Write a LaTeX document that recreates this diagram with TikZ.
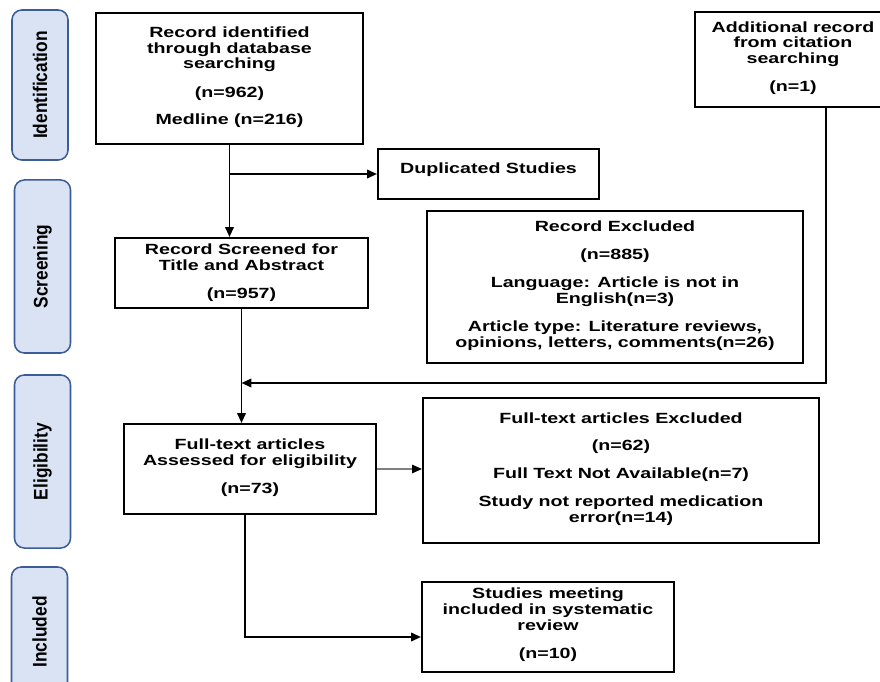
\documentclass[tikz,border=0pt]{standalone}
\usepackage{fontspec}
\newfontfamily\boxfont[FakeStretch=1.33]{Liberation Sans}
\newfontfamily\stagefont[FakeStretch=0.88]{Liberation Sans}
\usepackage{tikz}
\usetikzlibrary{arrows.meta,calc}
\definecolor{stagefill}{HTML}{DAE3F3}
\definecolor{stageline}{HTML}{3B5C96}

\begin{document}
\begin{tikzpicture}[x=0.025cm, y=-0.025cm,
    box/.style={rectangle, draw, line width=1.4pt, align=center, inner sep=0pt, text depth=0.15cm, font=\boxfont\bfseries\fontsize{10.5}{11.3}\selectfont},
    stage/.style={rectangle, rounded corners=7pt, draw=stageline, fill=stagefill, line width=1.1pt, rotate=90, minimum height=1.4cm, inner sep=0pt, font=\stagefont\bfseries\fontsize{14}{16}\selectfont},
    arrow/.style={line width=1.4pt, -{Triangle[length=7pt,width=6pt]}}]

    \clip (0,0) rectangle (880,682);

    % stages on the left
    \node[stage, minimum width=3.75cm] (identification) at (40,85) {Identification};
    \node[stage, minimum width=4.325cm] (screening) at (42.5,266.5) {Screening};
    \node[stage, minimum width=4.325cm] (eligibility) at (42.5,461.5) {Eligibility};
    \node[stage, minimum width=3.25cm] (included) at (39.5,632) {Included};

    % records
    \node[box, minimum width=6.675cm, minimum height=3.275cm] (database) at (229.5,78.5) {
        Record identified\\through database\\searching\\[9pt]
        (n=962)\\[8pt]
        Medline (n=216)
    };
    \node[box, minimum width=4.9cm, minimum height=2.375cm] (citation) at (793,59.5) {
        Additional record\\from citation\\searching\\[8.5pt]
        (n=1)
    };
    \node[box, minimum width=5.525cm, minimum height=1.25cm, text depth=0.3cm] (duplicated) at (488.5,174) {Duplicated Studies};
    \node[box, minimum width=6.325cm, minimum height=1.75cm, text depth=0.1cm] (screened) at (241.5,273) {
        Record Screened for\\Title and Abstract\\[8.5pt]
        (n=957)
    };
    \node[box, minimum width=9.4cm, minimum height=3.8cm] (excluded) at (615,287) {
        Record Excluded\\[8.5pt]
        (n=885)\\[8.5pt]
        Language: Article is not in\\English(n=3)\\[8.5pt]
        Article type: Literature reviews,\\opinions, letters, comments(n=26)
    };
    \node[box, minimum width=6.3cm, minimum height=2.25cm] (assessed) at (250,469) {
        Full-text articles\\Assessed for eligibility\\[8.5pt]
        (n=73)
    };
    \node[box, minimum width=9.9cm, minimum height=3.625cm] (ftexcluded) at (621,470.5) {
        Full-text articles Excluded\\[8.5pt]
        (n=62)\\[8.5pt]
        Full Text Not Available(n=7)\\[8.5pt]
        Study not reported medication\\error(n=14)
    };
    \node[box, minimum width=6.3cm, minimum height=2.25cm, text depth=0.2cm] (studies) at (548,627) {
        Studies meeting\\included in systematic\\review\\[8.5pt]
        (n=10)
    };

    % connectors
    \coordinate (merge) at (screened.south |- 0,383);
    \draw[arrow] (database.south) -- (database.south |- screened.north);
    \draw[arrow] (database.south |- duplicated.west) -- (duplicated.west);
    \draw[arrow] (screened.south) -- (screened.south |- assessed.north);
    \draw[arrow] ($(citation.south)+(33,0)$) |- (merge);
    \draw[line width=0.9pt, gray, -{Triangle[length=7pt,width=6pt,black]}] (assessed.east) -- (assessed.east -| ftexcluded.west);
    \draw[arrow] ($(assessed.south)+(-5,0)$) |- ($(studies.west)+(0,10)$);
\end{tikzpicture}
\end{document}
